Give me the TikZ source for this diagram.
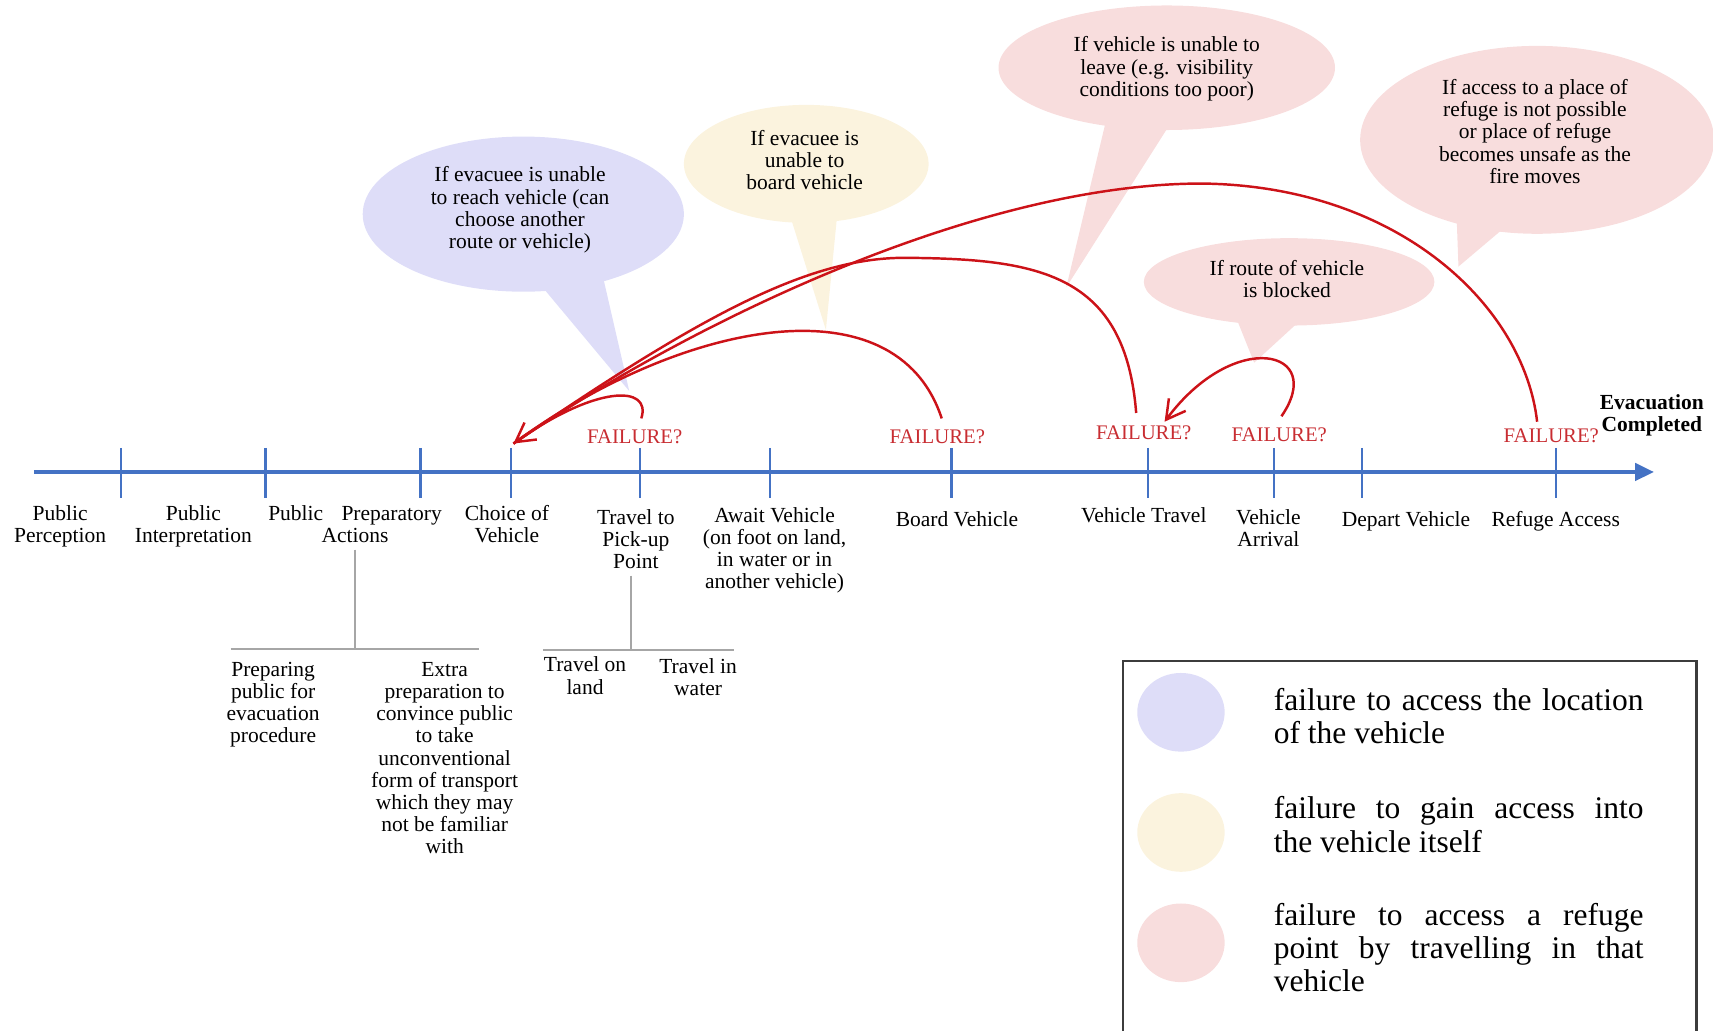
\documentclass[tikz,border=0pt]{standalone}
\usepackage{fontspec}
\setmainfont{Liberation Serif}
\usetikzlibrary{arrows.meta}
\definecolor{axisblue}{RGB}{68,114,196}
\definecolor{curvered}{RGB}{204,18,24}
\definecolor{failred}{RGB}{200,45,50}
\definecolor{lav}{RGB}{222,221,248}
\definecolor{cream}{RGB}{251,243,222}
\definecolor{rose}{RGB}{248,221,221}
\definecolor{treegray}{RGB}{166,166,166}
\definecolor{boxgray}{RGB}{60,60,60}
\tikzset{
  lbl/.style={anchor=base, align=center, inner sep=0pt, font=\fontsize{14}{14.45}\selectfont},
  bold lbl/.style={anchor=base, align=center, inner sep=0pt, font=\fontsize{14}{14.45}\selectfont\bfseries},
  fail/.style={anchor=base, inner sep=0pt, text=failred, font=\fontsize{13.5}{14.45}\selectfont},
  bub/.style={anchor=base, align=center, inner sep=0pt, font=\fontsize{14}{14.45}\selectfont},
  legtext/.style={anchor=base west, align=left, inner sep=0pt, font=\fontsize{20.5}{21.7}\selectfont},
  ret/.style={draw=curvered, line width=1.6pt},
  retarrow/.style={ret, -{Straight Barb[length=4.3mm,width=4.8mm]}},
  tickline/.style={draw=axisblue, line width=1.5pt},
  treeline/.style={draw=treegray, line width=1.3pt},
}
\begin{document}
\begin{tikzpicture}[x=0.025cm,y=-0.025cm]
\useasboundingbox (0,0) rectangle (1568,943);
\clip (0,0) rectangle (1568,943);

% speech bubbles
\fill[lav] (479,196) ellipse [x radius=147, y radius=71];
\fill[lav] (490,255) -- (576,358) -- (550,245) -- cycle;
\fill[cream] (738,150) ellipse [x radius=112, y radius=54];
\fill[cream] (724,200) -- (756,302) -- (766,200) -- cycle;
\fill[rose] (1068,62) ellipse [x radius=154, y radius=57];
\fill[rose] (1012,112) -- (976,263) -- (1072,112) -- cycle;
\fill[rose] (1407,128) ellipse [x radius=162, y radius=86];
\fill[rose] (1333,190) -- (1335,244) -- (1387,200) -- cycle;
\fill[rose] (1180,258) ellipse [x radius=133, y radius=40];
\fill[rose] (1132,292) -- (1148,332) -- (1196,288) -- cycle;

% (base anchor = baseline of the last line)
\node[bub] (b1) at (476,227.5) {If evacuee is unable\\to reach vehicle (can\\choose another\\route or vehicle)};
\node[bub] (b2) at (736.5,173.6) {If evacuee is\\unable to\\board vehicle};
\node[bub] (b3) at (1068,88.1) {If vehicle is unable to\\leave (e.g. visibility\\conditions too poor)};
\node[bub] (b4) at (1405,167.8) {If access to a place of\\refuge is not possible\\or place of refuge\\becomes unsafe as the\\fire moves};
\node[bub] (b5) at (1178,272.3) {If route of vehicle\\is blocked};

% axis
\coordinate (axS) at (31,432);
\coordinate (axE) at (1514,432);
\foreach \x/\n in {111/t1, 243/t2, 385/t3, 468/t4, 586/t5, 705/t6, 871/t7, 1051/t8, 1166/t9, 1247/t10, 1424/t11}{
  \coordinate (\n a) at (\x,410);
  \coordinate (\n b) at (\x,456);
  \draw[tickline] (\n a) -- (\n b);
}
\draw[axisblue, line width=2.6pt, -{Triangle[length=4.3mm,width=3.9mm]}] (axS) -- (axE);

% stage labels
\node[lbl] (pp) at (55,496.3) {Public\\Perception};
\node[lbl] (pint) at (177,496.3) {Public\\Interpretation};
\node[lbl] (ppa) at (325,496.3) {Public\hspace{0.85em}Preparatory\\Actions};
\node[lbl] (cov) at (464,496.3) {Choice of\\Vehicle};
\node[lbl] (tpp) at (582,520.6) {Travel to\\Pick-up\\Point};
\node[lbl] (aw) at (709,539) {Await Vehicle\\(on foot on land,\\in water or in\\another vehicle)};
\node[lbl] (bv) at (876,481.5) {Board Vehicle};
\node[lbl] (vt) at (1047,478) {Vehicle Travel};
\node[lbl] (va) at (1161,500.3) {Vehicle\\Arrival};
\node[lbl] (dv) at (1287,482) {Depart Vehicle};
\node[lbl] (ra) at (1424,482) {Refuge Access};
\node[bold lbl] (evc) at (1512,395.3) {Evacuation\\Completed};

% sub trees
\coordinate (p1top) at (325,503);
\coordinate (p1mid) at (325,594);
\coordinate (p1L) at (211,594);
\coordinate (p1R) at (438,594);
\draw[treeline] (p1top) -- (p1mid);
\draw[treeline] (p1L) -- (p1R);
\coordinate (p2top) at (578,527);
\coordinate (p2mid) at (578,595);
\coordinate (p2L) at (497,595);
\coordinate (p2R) at (672,595);
\draw[treeline] (p2top) -- (p2mid);
\draw[treeline] (p2L) -- (p2R);

\node[lbl] (prep) at (250,680) {Preparing\\public for\\evacuation\\procedure};
\node[lbl] (extra) at (407,781.6) {Extra\\preparation to\\convince public\\to take\\unconventional\\form of transport\\which they may\\not be familiar\\with};
\node[lbl] (tland) at (535.5,635.3) {Travel on\\land};
\node[lbl] (twater) at (639,636.8) {Travel in\\water};

% failure labels
\node[fail] (f1) at (581,406) {FAILURE?};
\node[fail] (f2) at (858,406) {FAILURE?};
\node[fail] (f3) at (1047,402) {FAILURE?};
\node[fail] (f4) at (1171,404) {FAILURE?};
\node[fail] (f5) at (1420,405) {FAILURE?};

% return curves
\coordinate (c1) at (587,383);
\coordinate (c2) at (862,383);
\coordinate (c3) at (1040,378);
\coordinate (c4) at (1173,381);
\coordinate (c5) at (1407,386);
\coordinate (aC) at (470,406);
\coordinate (aT) at (1066,386);
\coordinate (pk3) at (830,236);
\coordinate (pk5) at (1100,168);

\draw[ret] (c1) .. controls (597,352) and (545,352) .. (aC);
\draw[ret] (c3) .. controls (1030,250) and (950,237) .. (pk3) .. controls (740,235) and (640,290) .. (aC);
\draw[ret] (c5) .. controls (1395,280) and (1280,170) .. (pk5) .. controls (900,168) and (640,290) .. (aC);
\draw[retarrow] (c2) .. controls (820,255) and (624,294) .. (aC);
\draw[retarrow] (c4) .. controls (1215,320) and (1130,300) .. (aT);

% legend
\draw[boxgray, line width=1.5pt] (1028,605) rectangle (1553,970);
\fill[lav] (1081,652) ellipse [x radius=40, y radius=36];
\fill[cream] (1081,762) ellipse [x radius=40, y radius=36];
\fill[rose] (1081,863) ellipse [x radius=40, y radius=36];
\node[legtext] (lg1) at (1165.7,680.5) {\makebox[8.46cm][s]{failure to access the location}\\of the vehicle};
\node[legtext] (lg2) at (1165.7,780) {\makebox[8.46cm][s]{failure to gain access into}\\the vehicle itself};
\node[legtext] (lg3) at (1165.7,908) {\makebox[8.46cm][s]{failure to access a refuge}\\\makebox[8.46cm][s]{point by travelling in that}\\vehicle};
\end{tikzpicture}
\end{document}
